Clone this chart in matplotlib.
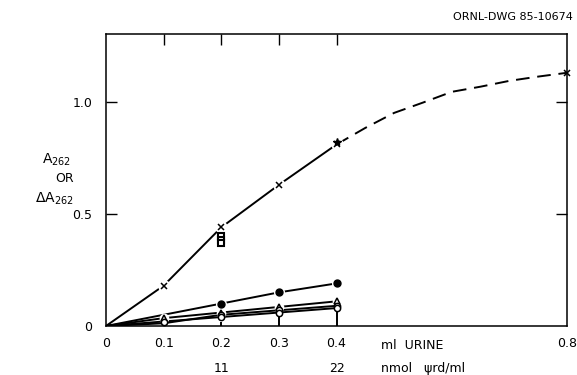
import matplotlib
matplotlib.use('Agg')
import matplotlib.pyplot as plt

plt.rcParams['font.family'] = ['DejaVu Sans']

# data
x_main = [0, 0.1, 0.2, 0.3, 0.4]
y_main = [0, 0.18, 0.44, 0.63, 0.81]
x_dash = [0.4, 0.45, 0.5, 0.55, 0.6, 0.65, 0.7, 0.75, 0.8]
y_dash = [0.81, 0.884, 0.951, 0.997, 1.045, 1.068, 1.094, 1.113, 1.13]
# extra points at 0.2 / 0.4 near the main line
x_extra = [0.2, 0.2, 0.2, 0.4]
y_extra = [0.40, 0.385, 0.37, 0.82]

x_low = [0, 0.2, 0.3, 0.4]
y_filled = [0, 0.10, 0.15, 0.19]
x_tri = [0, 0.1, 0.2, 0.3, 0.4]
y_tri = [0, 0.035, 0.06, 0.085, 0.11]
x_open = [0, 0.1, 0.2, 0.3, 0.4]
y_open = [0, 0.02, 0.04, 0.06, 0.08]
y_mid = [0, 0.012, 0.05, 0.07, 0.09]
stem_x = [0.2, 0.3, 0.4]
stem_top = [0.02, 0.05, 0.07]

xticks = [0, 0.1, 0.2, 0.3, 0.4, 0.8]
xticklabels = ['0', '0.1', '0.2', '0.3', '0.4', '0.8']
nmol_x = [0.2, 0.4]
nmol_labels = ['11', '22']

fig = plt.figure(figsize=(5.77, 3.75), dpi=100)
ax = fig.add_axes([0.1837, 0.1307, 0.799, 0.7786])

lw = 1.4
ax.plot(x_main, y_main, color='black', lw=lw, zorder=2)
ax.plot(x_dash, y_dash, color='black', lw=lw, dashes=(7, 4), zorder=2)
ax.plot(x_low, y_filled, color='black', lw=lw, zorder=2)
ax.plot(x_tri, y_tri, color='black', lw=lw, zorder=2)
ax.plot(x_open, y_open, color='black', lw=lw, zorder=2)
ax.plot(x_open, y_mid, color='black', lw=lw, zorder=2)
ax.vlines(stem_x, 0, stem_top, color='black', lw=lw, zorder=2)

# white halos to break the lines at the markers
ax.plot(x_main[1:], y_main[1:], 'o', ms=9, mfc='white', mec='none', zorder=2.2)
ax.plot(x_low[1:], y_filled[1:], 'o', ms=8, mfc='white', mec='none', zorder=2.2)
ax.plot(x_tri[1:], y_tri[1:], 'o', ms=7, mfc='white', mec='none', zorder=2.2)

ax.plot(x_main[1:], y_main[1:], 'x', color='black', ms=5, mew=1.1, zorder=4)
ax.plot(x_dash[-1:], y_dash[-1:], 'x', color='black', ms=5, mew=1.1, zorder=4, clip_on=False)
ax.plot(x_extra[:3], y_extra[:3], 's', color='black', ms=4.5, mfc='white', mew=1.5, zorder=4)
ax.plot(x_extra[3:], y_extra[3:], '*', color='black', ms=6, zorder=4)
ax.plot(x_low[1:], y_filled[1:], 'o', color='black', ms=5, zorder=4)
ax.plot(x_tri[1:], y_tri[1:], '^', color='black', ms=5, mfc='white', mew=1.1, zorder=4)
ax.plot(x_open[2:], y_mid[2:], 'o', color='black', ms=4.5, mfc='white', mew=1.1, zorder=4)
ax.plot(x_open[1:], y_open[1:], 'o', color='black', ms=4.5, mfc='white', mew=1.1, zorder=4)

ax.set_xlim(0, 0.8)
ax.set_ylim(0, 1.303)
ax.set_xticks(xticks)
ax.set_xticklabels(xticklabels, fontsize=9)
ax.set_yticks([0, 0.5, 1.0])
ax.set_yticklabels(['0', '0.5', '1.0'], fontsize=9)
ax.tick_params(axis='x', length=0, pad=8)
ax.tick_params(axis='y', direction='in', length=8, width=1, pad=10, right=True)
for t in ax.yaxis.get_major_ticks():
    t.tick1line.set_visible(t.get_loc() > 0)
    t.tick2line.set_visible(t.get_loc() > 0)

# top ticks at 0.1 - 0.4
top = ax.secondary_xaxis('top')
top.set_xticks([0.1, 0.2, 0.3, 0.4])
top.set_xticklabels([])
top.tick_params(direction='in', length=8, width=1)
top.spines['top'].set_visible(False)

for s in ax.spines.values():
    s.set_linewidth(1.1)

ax.text(0.478, -0.066, 'ml  URINE', transform=ax.get_xaxis_transform(),
        fontsize=9, ha='left', va='center')
for xv, lab in zip(nmol_x, nmol_labels):
    ax.text(xv, -0.145, lab, transform=ax.get_xaxis_transform(),
            fontsize=9, ha='center', va='center')
ax.text(0.478, -0.145, 'nmol   \u03c8rd/ml', transform=ax.get_xaxis_transform(),
        fontsize=9, ha='left', va='center')

fig.text(0.073, 0.575, r'$\mathregular{A_{262}}$', fontsize=10, ha='left', va='center')
fig.text(0.095, 0.525, 'OR', fontsize=9, ha='left', va='center')
fig.text(0.06, 0.47, r'$\mathregular{\Delta A_{262}}$', fontsize=10, ha='left', va='center')

fig.text(0.993, 0.955, 'ORNL-DWG 85-10674', fontsize=8, ha='right', va='center')

fig.savefig('out.png', dpi=100)
